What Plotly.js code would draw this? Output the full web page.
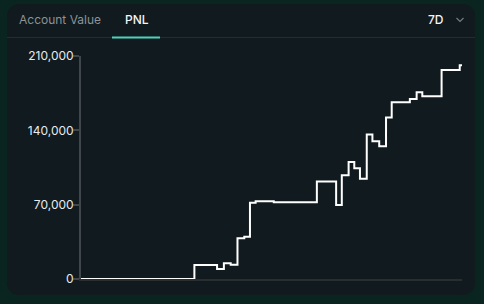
<!DOCTYPE html>
<html>
<head>
<meta charset="utf-8">
<script src="https://cdn.plot.ly/plotly-3.0.1.min.js"></script>
<style>
  html, body { margin: 0; padding: 0; background: #0a251f; }
  #wrap { position: relative; width: 484px; height: 304px; overflow: hidden; }
  #card { position: absolute; left: 7px; top: 4px; width: 468px; height: 291px;
          border-radius: 12px; background: #111a1e; }
  #chart { position: absolute; left: 0; top: 0; width: 484px; height: 304px; }
</style>
</head>
<body>
<div id="wrap">
  <div id="card"></div>
  <div id="chart"></div>
</div>
<script>
// PNL over the last 7 days, hours since the start of the window
const hours = [0, 50, 60, 63, 66, 69, 72, 74.5, 77, 85, 104, 112.5, 115, 118, 120.5,
               123, 126, 128.5, 131.5, 134.5, 137, 145, 148, 150.5, 159, 167, 168];
const pnl = [0, 13200, 9400, 14800, 13500, 38300, 39800, 71800, 73100, 72200, 91900,
             69600, 97600, 110100, 104400, 94400, 136100, 129800, 125100, 152100,
             166500, 169600, 175900, 172200, 196900, 201300, 201300];
const yTicks = [0, 70000, 140000, 210000];
const tabs = ['Account Value', 'PNL'];
const period = '7D';

// plot area in pixels: x 81..462, y 56..279
const L = 81, R = 462, T = 56, B = 279;
const px = v => (v - L) / (R - L);
const py = v => (B - v) / (B - T);

const font = 'Inter, "Noto Sans", sans-serif';

const trace = {
  x: hours, y: pnl, type: 'scatter', mode: 'lines',
  line: { shape: 'hv', color: '#ffffff', width: 2 },
  hoverinfo: 'skip'
};

const layout = {
  width: 484, height: 304,
  margin: { l: L, r: 484 - R, t: T, b: 304 - B, pad: 0 },
  paper_bgcolor: 'rgba(0,0,0,0)',
  plot_bgcolor: 'rgba(0,0,0,0)',
  showlegend: false,
  font: { family: font },
  xaxis: {
    range: [0, 168], showgrid: false, zeroline: false,
    showline: true, linecolor: '#2a2e30', linewidth: 2,
    showticklabels: false, ticks: '', fixedrange: true
  },
  yaxis: {
    range: [0, 210000], tickvals: yTicks, tickformat: ',',
    showgrid: false, zeroline: false,
    showline: true, linecolor: '#40464a', linewidth: 2,
    ticks: 'outside', ticklen: 6, tickwidth: 2, tickcolor: '#40464a',
    tickfont: { family: font, size: 12, color: '#e6ebee' },
    ticklabelstandoff: -3, fixedrange: true
  },
  shapes: [
    { type: 'line', xref: 'paper', yref: 'paper', x0: px(7), x1: px(475), y0: py(37.5), y1: py(37.5),
      line: { color: '#252c30', width: 1 } },
    { type: 'line', xref: 'paper', yref: 'paper', x0: px(112), x1: px(160), y0: py(37.5), y1: py(37.5),
      line: { color: '#4fd1bf', width: 2 } },
    { type: 'path', xref: 'paper', yref: 'paper',
      path: `M ${px(456.5)} ${py(18)} L ${px(460)} ${py(21.5)} L ${px(463.5)} ${py(18)}`,
      line: { color: '#737c81', width: 1.2 } }
  ],
  annotations: [
    { text: tabs[0], xref: 'paper', yref: 'paper', x: px(17), y: py(19.5),
      xanchor: 'left', yanchor: 'middle', showarrow: false,
      font: { family: font, size: 12, color: '#8a9398' } },
    { text: tabs[1], xref: 'paper', yref: 'paper', x: px(123), y: py(19.5),
      xanchor: 'left', yanchor: 'middle', showarrow: false,
      font: { family: font, size: 12, color: '#f3f6f8', weight: 500 } },
    { text: period, xref: 'paper', yref: 'paper', x: px(425.5), y: py(19.5),
      xanchor: 'left', yanchor: 'middle', showarrow: false,
      font: { family: font, size: 12, color: '#f3f6f8', weight: 500 } }
  ]
};

Plotly.newPlot('chart', [trace], layout, { displayModeBar: false, staticPlot: true });
</script>
</body>
</html>
